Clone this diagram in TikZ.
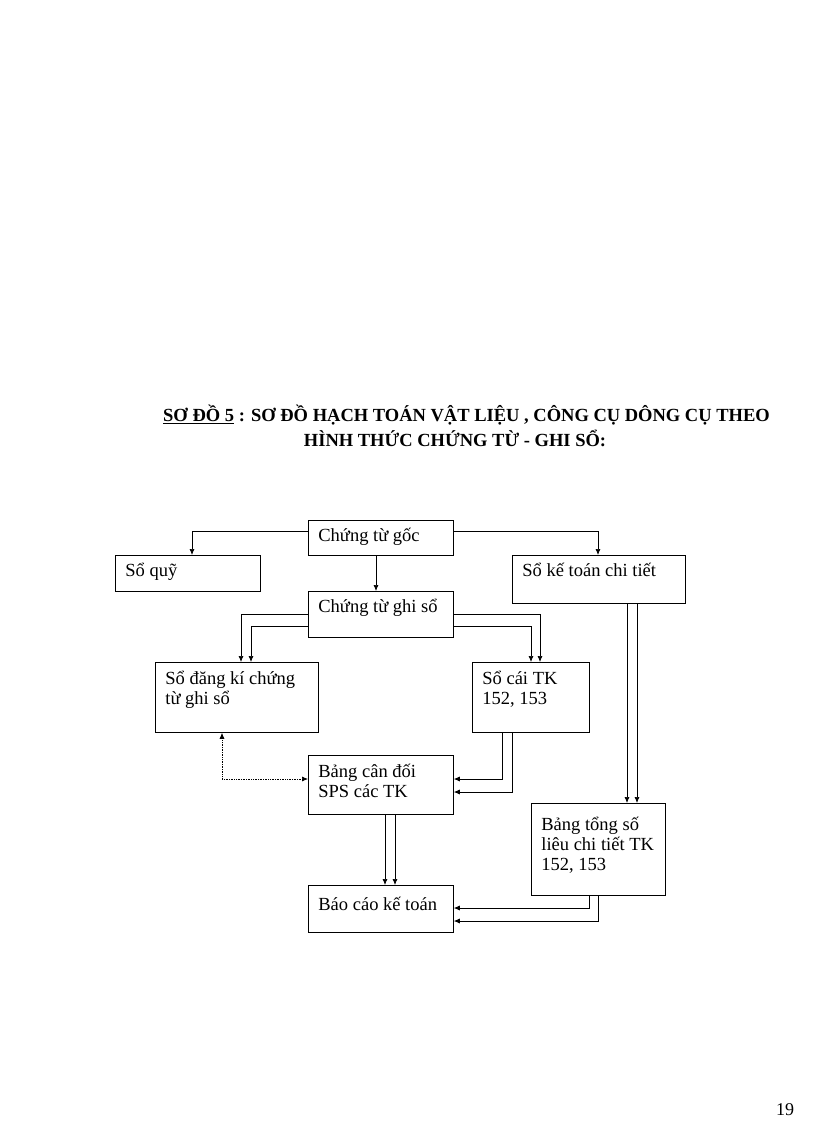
\documentclass[tikz,border=0pt]{standalone}
\usepackage{fontspec}
\setmainfont{Liberation Serif}
\usetikzlibrary{arrows.meta}
\newcommand{\bxtext}[4]{\parbox[t][\dimexpr#2pt-10pt\relax][t]{\dimexpr#1pt-20pt\relax}{\raggedright\vspace*{#4pt}\strut #3}}
\begin{document}
\begin{tikzpicture}[x=1pt,y=-1pt,
  box/.style={draw,line width=0.8pt,anchor=north west,font=\fontsize{18.5}{20}\selectfont,inner xsep=10pt,inner ysep=5pt},
  ar/.style={line width=0.7pt,-{Latex[length=6pt,width=5pt]}},
  dar/.style={line width=0.7pt,densely dotted,{Latex[length=6pt,width=5pt]}-{Latex[length=6pt,width=5pt]}}]
\useasboundingbox (0,0) rectangle (816,1123);
\node[box] (g) at (308,520) {\bxtext{145}{35}{Chứng từ gốc}{2}};
\node[box] (q) at (115,555) {\bxtext{145}{36}{Sổ quỹ}{2}};
\node[box] (k) at (512,555) {\bxtext{173}{48}{Sổ kế toán chi tiết}{2}};
\node[box] (c) at (308,591) {\bxtext{145}{46}{Chứng từ ghi sổ}{2}};
\node[box] (d) at (155,662) {\bxtext{163}{70}{Sổ đăng kí chứng\\từ ghi sổ}{3}};
\node[box] (s) at (472,662) {\bxtext{117}{70}{Sổ cái TK\\152, 153}{3}};
\node[box] (b) at (308,755) {\bxtext{145}{59}{Bảng cân đối\\SPS các TK}{3}};
\node[box] (t) at (531,803) {\bxtext{134}{92}{Bảng tổng số\\liêu chi tiết TK\\152, 153}{8}};
\node[box] (r) at (308,885) {\bxtext{145}{47}{Báo cáo kế toán}{6}};
% level coordinates
\coordinate (y531) at (0,531);
\coordinate (y614) at (0,614);
\coordinate (y626) at (0,626);
\coordinate (y779) at (0,779);
\coordinate (y792) at (0,792);
\coordinate (y908) at (0,908);
\coordinate (y921) at (0,921);
\coordinate (x192) at (192,0);
\coordinate (x598) at (598,0);
\coordinate (x376) at (376,0);
\coordinate (x241) at (241,0);
\coordinate (x251) at (251,0);
\coordinate (x531) at (531,0);
\coordinate (x540) at (540,0);
\coordinate (x627) at (627,0);
\coordinate (x637) at (637,0);
\coordinate (x502) at (502,0);
\coordinate (x512) at (512,0);
\coordinate (x222) at (222,0);
\coordinate (x385) at (385,0);
\coordinate (x395) at (395,0);
\coordinate (x589) at (589,0);
\draw[ar] (g.west |- y531) -| (q.north -| x192);
\draw[ar] (g.east |- y531) -| (k.north -| x598);
\draw[ar] (g.south -| x376) -- (c.north -| x376);
\draw[ar] (c.west |- y614) -| (d.north -| x241);
\draw[ar] (c.west |- y626) -| (d.north -| x251);
\draw[ar] (c.east |- y614) -| (s.north -| x540);
\draw[ar] (c.east |- y626) -| (s.north -| x531);
\draw[ar] (k.south -| x627) -- (t.north -| x627);
\draw[ar] (k.south -| x637) -- (t.north -| x637);
\draw[ar] (s.south -| x502) |- (b.east |- y779);
\draw[ar] (s.south -| x512) |- (b.east |- y792);
\draw[dar] (d.south -| x222) |- (b.west |- y779);
\draw[ar] (b.south -| x385) -- (r.north -| x385);
\draw[ar] (b.south -| x395) -- (r.north -| x395);
\draw[ar] (t.south -| x589) |- (r.east |- y908);
\draw[ar] (t.south -| x598) |- (r.east |- y921);
% title
\node[font=\bfseries\fontsize{18.5}{20}\selectfont,anchor=west,inner sep=0pt] (h1) at (163,415) {\underline{SƠ ĐỒ 5} : SƠ ĐỒ HẠCH TOÁN VẬT LIỆU , CÔNG CỤ DÔNG CỤ THEO};
\node[font=\bfseries\fontsize{18.5}{20}\selectfont,inner sep=0pt] (h2) at (455,438) {HÌNH THỨC CHỨNG TỪ - GHI SỔ:};
\node[font=\fontsize{18}{20}\selectfont,inner sep=1pt] (pg) at (785,1110) {19};
\end{tikzpicture}
\end{document}
